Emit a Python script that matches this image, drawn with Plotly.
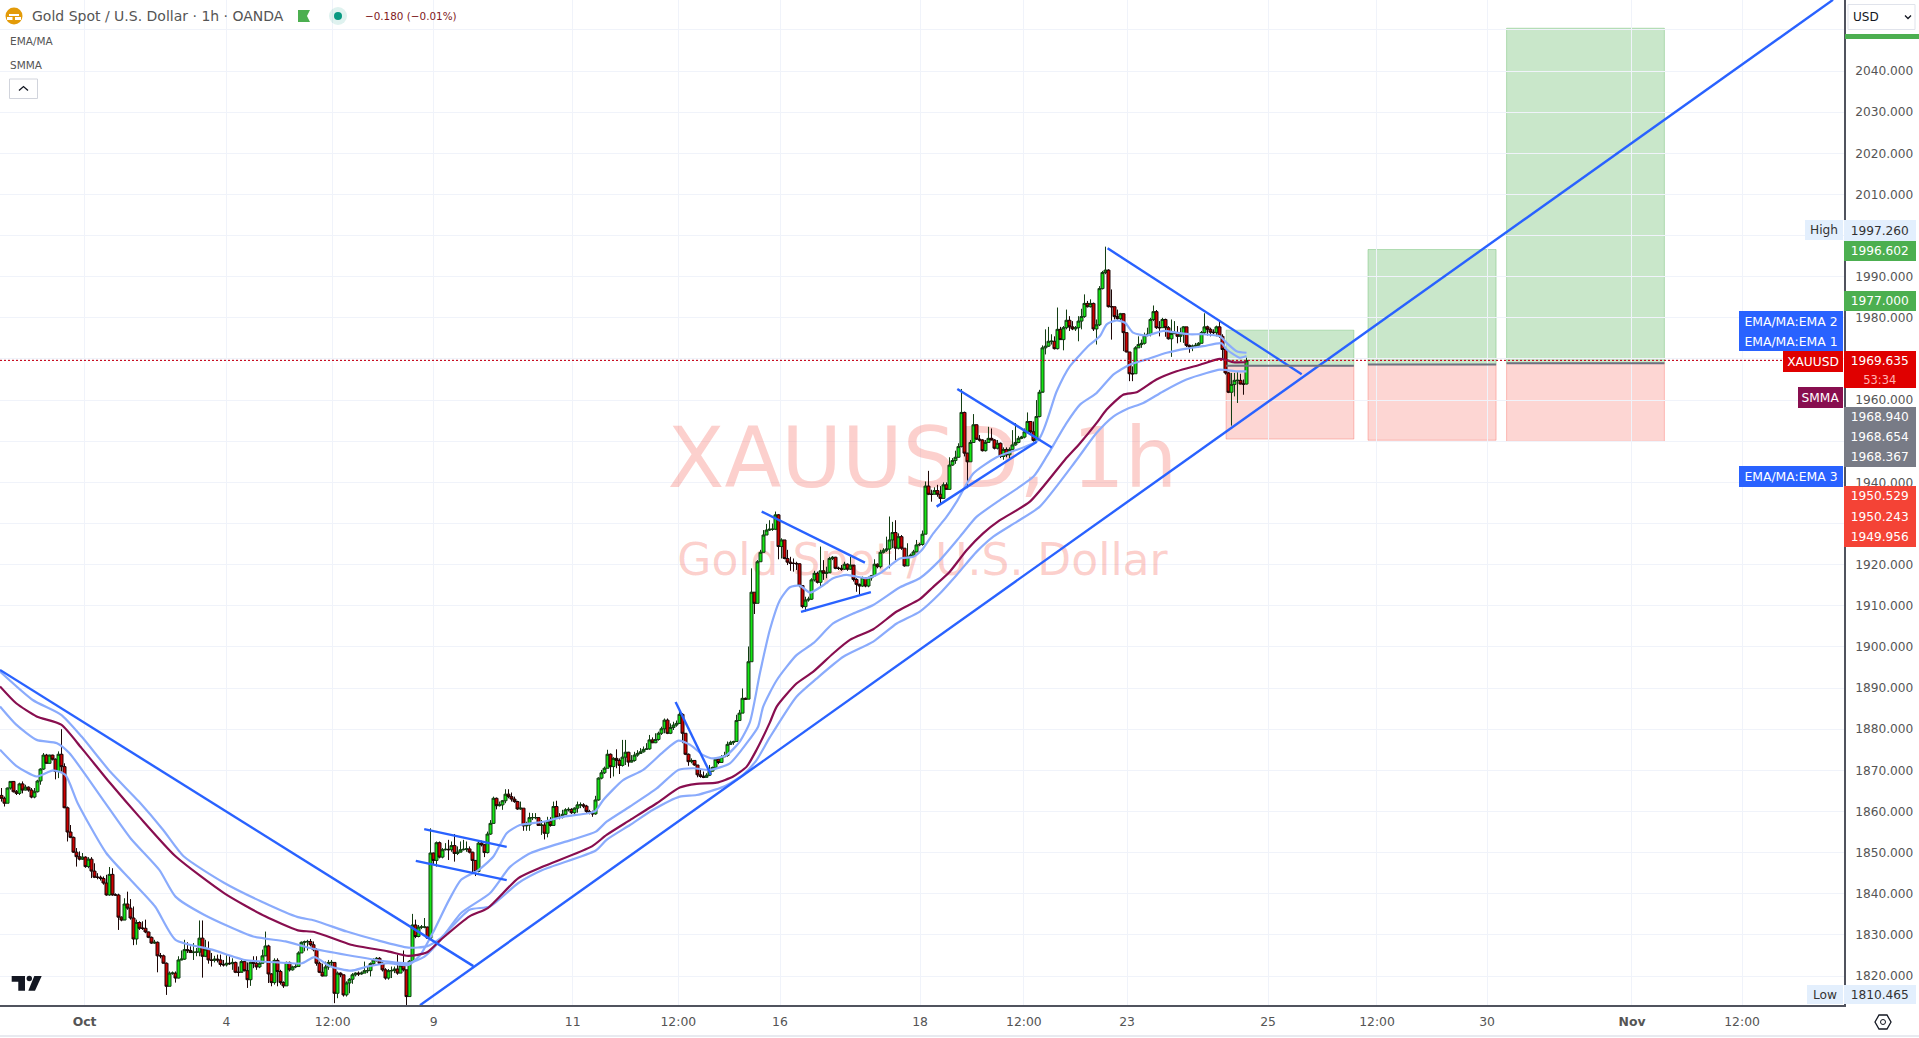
import plotly.graph_objects as go

W, H = 1919, 1038
PW, PH = 1844, 1005

closes = [
1863.2,1862.0,1865.7,1867.3,1864.8,1864.4,1866.7,1865.2,1865.9,1865.2,
1863.5,1864.8,1867.4,1870.3,1873.7,1871.7,1873.7,1872.7,1869.7,1873.9,
1870.9,1860.9,1855.0,1853.7,1850.1,1849.0,1848.4,1848.9,1846.6,1848.4,
1845.5,1844.0,1844.0,1843.7,1842.6,1839.7,1844.7,1839.7,1839.7,1834.3,
1833.6,1837.5,1836.5,1834.1,1829.0,1833.0,1831.6,1831.6,1830.7,1829.4,
1828.0,1828.2,1824.9,1824.9,1823.1,1817.5,1820.7,1820.7,1819.5,1823.9,
1824.1,1826.4,1826.2,1825.7,1825.8,1825.8,1829.2,1824.8,1826.5,1823.9,
1823.8,1824.1,1823.9,1822.8,1822.7,1823.1,1823.0,1823.3,1820.9,1820.9,
1823.5,1821.3,1819.1,1823.3,1823.1,1822.2,1823.1,1824.9,1827.3,1820.5,
1818.4,1823.8,1821.1,1818.4,1817.6,1823.3,1821.5,1822.2,1822.3,1825.6,
1828.2,1828.3,1828.4,1827.6,1826.4,1823.1,1820.9,1820.0,1822.2,1823.3,
1823.3,1815.8,1820.7,1820.3,1815.4,1818.3,1819.2,1820.3,1820.7,1820.5,
1820.7,1821.3,1821.3,1823.0,1823.9,1824.3,1823.1,1821.5,1819.5,1821.3,
1821.3,1821.7,1820.7,1822.5,1821.5,1815.0,1823.6,1832.4,1829.6,1831.9,
1831.9,1831.9,1829.2,1849.9,1848.1,1852.4,1848.9,1850.7,1850.8,1850.7,
1851.7,1849.8,1850.1,1850.7,1850.8,1850.9,1850.1,1848.1,1845.4,1852.3,
1851.9,1850.0,1854.5,1857.1,1863.2,1861.4,1861.6,1862.6,1864.2,1863.6,
1863.0,1862.4,1860.6,1860.8,1856.5,1856.7,1858.5,1858.5,1858.5,1856.6,
1856.7,1854.7,1857.5,1856.6,1861.2,1858.6,1858.6,1859.3,1860.4,1860.5,
1859.7,1860.8,1861.6,1861.6,1861.3,1860.0,1859.7,1859.4,1862.8,1868.1,
1869.4,1870.5,1873.9,1870.9,1872.9,1872.4,1871.2,1873.2,1874.4,1872.0,
1872.4,1873.7,1874.1,1874.5,1875.1,1875.2,1877.4,1876.7,1877.5,1879.0,
1880.1,1882.2,1879.0,1880.4,1881.0,1881.4,1883.6,1879.0,1873.9,1872.1,
1872.4,1871.3,1868.9,1868.5,1868.3,1868.8,1869.8,1870.7,1872.7,1871.9,
1873.3,1873.6,1876.3,1876.8,1877.0,1882.1,1883.9,1887.5,1887.3,1896.4,
1913.3,1910.6,1920.7,1923.0,1927.2,1928.4,1928.6,1928.6,1932.1,1924.4,
1926.0,1921.5,1920.6,1920.3,1920.3,1920.2,1914.9,1909.8,1911.4,1911.6,
1916.3,1917.9,1915.7,1918.5,1917.9,1918.0,1921.5,1921.8,1919.1,1919.1,
1918.9,1920.1,1918.9,1919.9,1916.4,1915.2,1914.8,1916.8,1914.8,1916.8,
1917.3,1920.1,1919.5,1923.0,1923.5,1923.8,1926.0,1927.8,1924.0,1926.8,
1924.0,1919.7,1921.9,1922.3,1923.1,1924.8,1924.9,1927.4,1939.1,1937.1,
1937.1,1938.0,1937.1,1936.1,1939.4,1938.3,1944.2,1945.3,1946.1,1948.7,
1957.0,1947.1,1945.0,1949.7,1954.0,1950.5,1950.3,1947.7,1949.7,1950.7,
1950.3,1948.3,1949.5,1946.3,1948.0,1946.7,1948.0,1949.1,1949.7,1950.7,
1951.0,1952.3,1954.8,1952.3,1950.2,1956.0,1961.9,1972.7,1973.1,1974.3,
1974.3,1972.5,1977.2,1974.7,1977.6,1979.4,1977.8,1977.3,1977.6,1979.2,
1980.3,1983.5,1982.7,1983.5,1977.3,1978.3,1987.1,1991.0,1991.6,1982.7,
1982.7,1980.3,1979.8,1981.0,1976.4,1971.7,1966.4,1966.4,1972.7,1973.5,
1973.8,1975.7,1976.0,1979.6,1981.5,1977.6,1977.6,1979.6,1977.6,1974.9,
1976.2,1976.4,1975.5,1976.0,1977.8,1973.3,1972.9,1973.1,1973.3,1973.8,
1976.4,1977.8,1977.2,1976.5,1976.4,1977.8,1975.5,1972.3,1966.6,1961.9,
1963.8,1964.8,1964.8,1963.9,1963.9,1969.6]

highs = [
1865.7,1863.6,1865.8,1867.4,1867.4,1865.2,1867.0,1867.3,1866.5,1866.1,
1865.7,1865.7,1867.7,1870.5,1874.2,1874.0,1873.8,1873.8,1872.9,1874.6,
1880.0,1871.7,1861.2,1856.7,1853.9,1851.1,1850.3,1849.9,1849.1,1848.9,
1848.9,1847.4,1845.0,1844.4,1844.2,1844.6,1846.5,1846.2,1840.1,1840.0,
1834.5,1838.9,1840.5,1838.7,1836.9,1833.7,1833.3,1833.3,1833.7,1830.8,
1829.6,1828.8,1828.4,1825.6,1825.2,1823.3,1821.1,1821.1,1821.1,1824.8,
1826.2,1828.8,1828.2,1827.2,1828.0,1826.8,1833.5,1833.5,1828.8,1828.4,
1825.6,1824.9,1825.2,1825.2,1823.9,1825.2,1824.8,1824.3,1823.5,1822.3,
1823.9,1823.9,1823.3,1823.5,1824.8,1824.8,1823.5,1826.4,1830.8,1827.6,
1820.7,1824.3,1824.3,1821.5,1818.7,1823.5,1823.5,1822.5,1823.0,1826.0,
1828.4,1828.6,1828.8,1829.0,1828.4,1826.8,1823.5,1823.0,1823.5,1823.9,
1823.9,1823.3,1821.1,1820.9,1820.3,1818.7,1819.5,1820.7,1820.9,1821.1,
1821.1,1823.5,1822.3,1823.3,1824.3,1824.6,1824.6,1823.3,1821.9,1821.7,
1822.3,1822.3,1825.2,1823.0,1826.2,1821.5,1823.9,1835.1,1833.7,1832.4,
1832.4,1834.1,1832.0,1855.9,1850.0,1852.7,1852.7,1851.1,1852.3,1853.1,
1852.7,1854.5,1851.5,1852.7,1853.1,1852.7,1851.5,1850.2,1848.2,1852.7,
1852.9,1852.1,1855.1,1857.9,1863.6,1863.4,1862.4,1862.8,1865.4,1865.4,
1864.6,1863.6,1862.6,1862.4,1860.8,1857.5,1859.7,1859.6,1859.6,1858.6,
1857.9,1857.5,1858.7,1858.6,1862.4,1862.6,1859.6,1860.4,1860.8,1861.0,
1860.8,1861.0,1862.4,1862.2,1862.0,1861.6,1860.4,1860.2,1863.8,1868.3,
1870.1,1870.9,1875.0,1874.1,1873.2,1875.1,1872.9,1877.4,1877.4,1874.5,
1873.7,1874.5,1874.9,1875.4,1875.8,1876.6,1878.6,1878.0,1879.0,1879.4,
1880.6,1882.6,1882.6,1881.4,1881.8,1882.1,1884.7,1883.9,1879.0,1874.1,
1872.9,1872.5,1871.3,1870.1,1869.7,1869.3,1871.3,1870.9,1872.9,1872.9,
1873.7,1874.5,1877.0,1877.2,1877.2,1883.5,1884.7,1889.9,1887.7,1900.1,
1919.1,1913.3,1921.1,1923.6,1928.4,1929.9,1930.8,1930.0,1932.9,1932.3,
1926.4,1926.0,1923.6,1921.9,1921.5,1920.7,1920.3,1915.0,1912.2,1912.2,
1916.7,1918.5,1918.3,1924.4,1921.1,1919.5,1921.9,1922.1,1921.9,1919.5,
1919.9,1920.7,1920.3,1921.9,1919.5,1916.7,1915.4,1917.1,1916.9,1917.1,
1917.5,1921.3,1920.3,1923.6,1924.0,1926.8,1931.7,1930.4,1930.8,1927.6,
1927.2,1924.0,1925.2,1922.7,1923.6,1926.0,1925.3,1928.3,1940.2,1942.8,
1938.2,1938.8,1939.4,1939.1,1940.0,1940.0,1946.1,1945.9,1947.7,1949.5,
1962.7,1957.2,1947.2,1950.3,1956.6,1954.1,1951.5,1950.5,1950.3,1953.5,
1953.1,1950.5,1950.3,1949.7,1948.5,1948.5,1948.5,1952.7,1954.4,1951.3,
1951.3,1953.1,1957.0,1954.8,1954.8,1960.0,1962.5,1973.3,1977.2,1977.8,
1976.0,1975.5,1982.5,1977.8,1978.0,1982.0,1980.4,1979.2,1978.0,1980.4,
1982.2,1985.7,1984.1,1984.5,1983.7,1979.6,1987.7,1991.4,1997.3,1991.8,
1986.9,1982.7,1982.0,1981.2,1981.1,1976.4,1971.7,1968.2,1973.1,1975.5,
1974.7,1976.4,1977.6,1980.0,1983.0,1981.9,1979.2,1980.0,1979.8,1978.0,
1979.6,1979.2,1978.0,1977.6,1978.0,1977.8,1973.5,1973.5,1973.9,1974.1,
1976.8,1981.1,1978.1,1977.6,1977.2,1978.1,1979.4,1976.0,1972.3,1966.8,
1966.6,1966.6,1966.8,1966.4,1965.0,1970.3]

lows = [
1862.4,1861.2,1862.0,1865.3,1864.6,1864.0,1864.0,1864.4,1865.1,1864.8,
1863.2,1863.2,1864.6,1866.5,1870.1,1871.6,1871.6,1872.4,1867.8,1868.1,
1869.7,1860.8,1852.7,1853.5,1849.9,1846.6,1848.1,1848.2,1846.3,1846.2,
1843.8,1843.8,1843.5,1843.2,1842.2,1839.5,1839.5,1839.5,1839.5,1831.2,
1833.3,1833.7,1836.1,1833.7,1827.5,1827.6,1831.2,1831.2,1830.4,1829.2,
1827.8,1827.8,1820.9,1824.3,1823.0,1815.4,1817.5,1820.3,1818.4,1819.4,
1823.8,1823.9,1825.6,1825.6,1823.9,1824.8,1824.8,1819.6,1824.6,1823.0,
1822.3,1823.3,1823.3,1822.3,1822.3,1822.3,1822.7,1821.5,1820.7,1819.9,
1821.1,1821.1,1817.1,1817.6,1821.9,1821.5,1821.9,1823.0,1824.8,1818.3,
1817.5,1817.9,1817.5,1817.9,1817.1,1817.6,1821.1,1821.3,1821.9,1822.3,
1825.6,1826.0,1826.2,1827.2,1826.0,1822.5,1820.7,1819.9,1820.0,1821.5,
1822.3,1813.4,1814.6,1819.7,1815.0,1815.0,1815.8,1818.1,1819.9,1820.0,
1820.3,1820.7,1820.7,1819.9,1822.7,1823.5,1822.7,1821.1,1819.1,1819.1,
1819.5,1820.7,1820.3,1820.7,1821.1,1810.5,1815.0,1823.5,1829.2,1829.4,
1831.4,1831.6,1829.0,1829.2,1847.0,1846.6,1848.6,1848.6,1850.5,1848.2,
1850.2,1847.8,1849.4,1850.2,1850.5,1850.2,1849.8,1845.0,1844.3,1845.2,
1851.5,1848.9,1849.8,1854.3,1857.0,1860.5,1861.2,1860.4,1862.0,1863.2,
1862.4,1862.1,1860.4,1860.4,1855.3,1855.3,1855.3,1857.9,1858.1,1856.5,
1854.3,1853.2,1853.7,1856.3,1856.5,1858.3,1858.1,1858.3,1859.2,1860.0,
1859.4,1859.4,1859.7,1860.8,1860.8,1859.6,1859.3,1858.7,1859.2,1862.6,
1867.8,1869.1,1870.5,1868.1,1868.5,1870.5,1869.1,1870.9,1871.3,1870.9,
1871.9,1872.1,1873.3,1874.1,1874.3,1875.0,1875.0,1876.6,1876.6,1877.2,
1878.6,1879.0,1878.8,1878.8,1879.8,1880.6,1881.3,1876.6,1873.7,1871.1,
1871.7,1871.1,1868.3,1868.2,1868.1,1868.2,1868.6,1869.7,1870.5,1871.5,
1871.9,1873.2,1873.3,1876.2,1876.2,1877.0,1882.1,1883.9,1887.1,1887.3,
1896.4,1908.0,1910.6,1920.7,1923.0,1927.2,1928.2,1928.2,1928.4,1921.3,
1921.5,1921.3,1919.9,1918.5,1918.3,1918.7,1914.5,1909.4,1908.6,1911.0,
1911.4,1915.9,1915.4,1914.6,1916.3,1916.7,1918.3,1921.1,1918.9,1918.7,
1918.5,1918.7,1918.5,1918.7,1915.9,1913.4,1912.4,1914.6,1914.5,1914.5,
1916.1,1917.2,1919.1,1919.1,1922.7,1923.1,1919.1,1924.0,1921.1,1923.7,
1923.6,1919.5,1919.7,1921.8,1922.1,1923.0,1924.5,1924.6,1927.4,1936.9,
1935.3,1937.1,1936.5,1934.9,1936.1,1938.2,1938.2,1944.0,1944.5,1946.0,
1948.5,1946.3,1938.6,1945.0,1949.7,1950.3,1949.9,1947.5,1947.5,1949.7,
1950.2,1948.0,1948.0,1945.9,1945.5,1946.1,1945.9,1947.9,1948.9,1949.5,
1950.5,1950.7,1952.1,1951.9,1949.9,1949.9,1955.8,1962.1,1971.1,1972.9,
1973.5,1972.3,1972.3,1974.6,1972.1,1977.2,1976.8,1977.0,1976.8,1974.3,
1977.2,1980.0,1982.5,1982.5,1976.8,1973.5,1978.0,1986.9,1990.6,1982.5,
1974.7,1979.6,1979.4,1979.2,1971.9,1971.6,1964.6,1964.6,1966.4,1972.7,
1972.7,1973.5,1975.5,1975.5,1979.2,1977.3,1975.5,1977.6,1975.4,1974.7,
1970.5,1976.0,1973.8,1974.1,1973.9,1972.9,1971.5,1971.9,1972.7,1972.7,
1973.8,1976.0,1975.7,1975.5,1976.0,1975.5,1975.1,1969.9,1966.2,1961.7,
1953.8,1960.9,1959.3,1963.8,1961.3,1963.8]

first_open = 1863.9
bars = list(range(len(closes)))
opens = [first_open] + closes[:-1]
assert len(closes) == len(highs) == len(lows) == 416

ema1_bar = [-0.5,4.9,11.7,17.2,21.3,25.4,34.9,43,51.2,58,70.2,81.1,92,100.2,104.3,109.7,116.5,122,128.8,135.6,139.6,143.7,149.2,153.2,158.7,163.9,168.4,172.8,180.6,187.2,195,197.8,200.6,207.2,213.9,220.6,225.6,229.5,233.9,237.2,241.7,246.1,249.5,252.8,256.1,259.5,262.8,266.1,269.5,273.9,277.2,281.7,288.4,292.8,299.5,303.9,306.7,310.6,315,318.4,324,331.7,345.6,351.7,356.1,362.8,366.1,368.4,371.7,374.5,377.2,381.7,387.2,391.7,396.1,400.6,406.1,408.4,411.7,415]
ema1_val = [1875,1871.1,1868.5,1870,1868.9,1862,1849.9,1843.4,1836.9,1828.8,1826.4,1823.9,1823.3,1823.1,1824.6,1822.3,1821.3,1822.3,1823.1,1822.7,1825.1,1830.4,1838.5,1843.4,1845.6,1849,1854.7,1856.7,1857.5,1858.7,1859.5,1860,1862.8,1867.6,1870.1,1874.5,1877.2,1876.2,1873.7,1872.9,1873.7,1877,1881.8,1893.6,1904.1,1911.4,1914.5,1914.9,1913.2,1915,1916.7,1917.5,1916.7,1917.9,1921.5,1921.9,1923.5,1927.6,1931.6,1935.3,1942.2,1946.1,1950.3,1962.1,1968.2,1973.5,1975.5,1978.4,1979.4,1978.8,1976.4,1975.7,1976.8,1976.4,1976,1976,1975.5,1973.9,1971.9,1971.5]

ema2_bar = [-0.5,4.9,11.7,18.5,22.6,33.5,43,52.6,58,67.5,83.9,94.7,102.9,115.1,128.8,135.6,141,146.4,153.2,162.8,169.6,176.4,190,198.1,201.7,209.5,218.4,225.6,230.6,236.1,242.8,248.4,252.2,253.9,258.4,265,270.6,277.2,283.9,290.6,299.5,306.1,312.8,319.5,325,332.8,344,348.4,355,359.5,365,370.6,376.1,381.7,388.4,395,400.6,406.7,408.4,412.8,415]
ema2_val = [1885.5,1881.1,1877.4,1876.6,1874.2,1863.2,1853.5,1845.8,1839.3,1834.9,1829.6,1828.4,1826.8,1825.1,1823.5,1823.1,1824.7,1828.8,1835.3,1840.1,1846.6,1849.9,1853.1,1855.1,1857.5,1861.2,1865.6,1870.1,1870.5,1870.1,1871.7,1876.6,1880.6,1885.5,1891.9,1898,1900.9,1905.7,1908.1,1910.2,1914.5,1916.7,1921.1,1926.8,1931.6,1935.7,1941.4,1946.3,1954.4,1958.9,1961.7,1966.2,1968.6,1969.9,1971.5,1972.5,1973.1,1973.8,1972.3,1970.3,1970.7]

smma_bar = [-0.5,4.9,11.7,19.9,26.7,36.2,45.8,58,74.3,87.9,98.8,104.3,116.5,128.8,135.6,141.7,146.4,156,162.1,172.3,180.5,196.8,201.7,209.5,218.4,226.1,231.7,238.4,243.9,248.4,251.7,256.1,258.4,265,270.6,277.2,282.8,290.6,298.4,306.1,310.6,316.1,321.7,327.2,332.8,342.8,354.5,359.5,365,368.4,373.9,378.4,385,391.7,399.5,406.1,408.4,410.6,415]
smma_val = [1890.4,1886.3,1883.1,1881.1,1875.4,1866.9,1858.8,1849.1,1840.1,1834.5,1831.1,1830.7,1827.6,1826,1824.9,1825.7,1828.8,1834.5,1836.5,1843.8,1846.6,1851.5,1854.3,1857.9,1862,1865.8,1866.7,1867,1868.5,1870.9,1875,1881.6,1885.5,1891.1,1894,1898.4,1901.7,1904.3,1908.6,1911.6,1914.6,1918.3,1923.5,1927.6,1930.8,1935.3,1945.5,1949.5,1954.4,1957.7,1961.3,1961.9,1965,1967,1968.6,1970,1969.7,1969.2,1969.2]

ema3_bar = [-0.5,10.4,19.9,26.7,36.2,45.8,53.9,60.7,74.3,86.6,98.8,104.3,115.1,124.7,135.6,141.7,146.4,156,162.8,172.3,180.5,198.1,201.7,209.5,217.2,226.1,231.7,240.6,247.2,251.7,256.1,265,271.7,280.6,290.6,298.4,306.1,312.8,318.4,325,330.6,338.4,346.1,358.4,365,370.6,375,380.6,387.2,395,401.7,406.1,408.4,411.7,415]
ema3_val = [1894,1887.1,1883.5,1878.2,1869.7,1862.4,1855.5,1849.1,1842.6,1838.1,1834.3,1833.5,1830.8,1828.8,1826.9,1827.2,1829.2,1836.1,1836.9,1842.6,1845.8,1850.5,1853.1,1856.7,1860.4,1863.6,1864,1866,1868.9,1872.5,1878,1887.9,1892.3,1897.6,1901.3,1905.7,1908.6,1913,1917.5,1923.1,1926.8,1930.4,1934.1,1945.5,1952,1956,1957.8,1959.3,1962.1,1965,1966.6,1967.4,1967.3,1967,1967]

trend_lines = [
    ((-0.5, 1894.4), (157.3, 1822.4)),
    ((139.5, 1812.9), (610.5, 2057.3)),
    ((140.9, 1855.7), (168.4, 1851.4)),
    ((138.1, 1848.0), (168.4, 1843.3)),
    ((224.7, 1886.6), (236.5, 1868.9)),
    ((253.4, 1932.9), (287.8, 1920.5)),
    ((266.5, 1908.5), (289.8, 1913.3)),
    ((318.6, 1962.7), (350.1, 1948.5)),
    ((311.7, 1934.1), (345.1, 1949.9)),
    ((368.7, 1996.9), (433.4, 1966.3)),
]

box_left = [408.2, 455.5, 501.7]
box_right = [450.8, 498.2, 554.3]
box_target = [1977.0, 1996.602, 2050.4]
box_entry = [1968.367, 1968.654, 1968.94]
box_stop = [1950.529, 1950.243, 1949.956]

x_tick_bars = [27.7, 75, 110.4, 144.1, 190.4, 225.6, 259.5, 306.2, 340.8, 375.2, 422.2, 458.5, 495.2, 543.5, 580.2]
x_tick_text = ["<b>Oct</b>", "4", "12:00", "9", "11", "12:00", "16", "18", "12:00", "23", "25", "12:00", "30", "<b>Nov</b>", "12:00"]
y_hidden_levels = [2050, 2000, 1970, 1950, 1930]
y_tick_vals = [v for v in range(1820, 2041, 10) if v not in y_hidden_levels]
y_tick_text = [f"{v}.000" for v in y_tick_vals]
last_price = 1969.635

FONT = "DejaVu Sans"
BLUE = "#2962ff"
LINE_BLUE = "#8aabfc"
MAROON = "#880e4f"
TEXT = "#555555"
GRID = "#f0f3fa"


def px(x):
    return x / PW


def py(y):
    return 1 - y / PH


def poly(points, close=True):
    s = "M " + " L ".join(f"{px(a):.5f} {py(b):.5f}" for a, b in points)
    return s + (" Z" if close else "")


fig = go.Figure()

# watermark lives on the primary axis so candles (overlay axis) draw above it
fig.add_trace(go.Scatter(
    x=[307, 307], y=[1944.0, 1920.2], mode="text",
    text=["XAUUSD, 1h", "Gold Spot / U.S. Dollar"],
    textfont=dict(family=FONT, size=[83, 44], color="rgba(244,67,54,0.25)"),
    textposition="middle center", hoverinfo="skip", showlegend=False,
))

fig.add_trace(go.Candlestick(
    x=bars, open=opens, high=highs, low=lows, close=closes, yaxis="y2",
    increasing=dict(fillcolor="#14e614", line=dict(color="#123d12", width=1)),
    decreasing=dict(fillcolor="#cc0000", line=dict(color="#1c0505", width=1)),
    whiskerwidth=0, showlegend=False, hoverinfo="skip",
))

for xs, ys, col in [
    (ema1_bar, ema1_val, LINE_BLUE),
    (ema2_bar, ema2_val, LINE_BLUE),
    (ema3_bar, ema3_val, LINE_BLUE),
    (smma_bar, smma_val, MAROON),
]:
    fig.add_trace(go.Scatter(
        x=xs, y=ys, mode="lines", yaxis="y2", showlegend=False, hoverinfo="skip",
        line=dict(color=col, width=2.2, shape="spline", smoothing=0.6),
    ))

for a, b in trend_lines:
    fig.add_trace(go.Scatter(
        x=[a[0], b[0]], y=[a[1], b[1]], mode="lines", yaxis="y2", showlegend=False,
        hoverinfo="skip", line=dict(color=BLUE, width=2.4),
    ))

shapes = []
for l, r, t, e, s in zip(box_left, box_right, box_target, box_entry, box_stop):
    shapes.append(dict(type="rect", xref="x", yref="y", x0=l, x1=r, y0=e, y1=t, layer="below",
                       fillcolor="rgba(76,175,80,0.30)", line=dict(color="rgba(76,175,80,0.35)", width=1)))
    shapes.append(dict(type="rect", xref="x", yref="y", x0=l, x1=r, y0=s, y1=e, layer="below",
                       fillcolor="rgba(244,67,54,0.22)", line=dict(color="rgba(244,67,54,0.3)", width=1)))
    shapes.append(dict(type="line", xref="x", yref="y", x0=l, x1=r, y0=e, y1=e, layer="above",
                       line=dict(color="#6f7280", width=2)))

# last price line
shapes.append(dict(type="line", xref="paper", yref="y", x0=0, x1=1, y0=last_price, y1=last_price,
                   layer="above", line=dict(color=BLUE, width=1, dash="2px,2px")))
shapes.append(dict(type="line", xref="paper", yref="y", x0=0, x1=1, y0=last_price + 0.02, y1=last_price + 0.02,
                   layer="above", line=dict(color="#e00000", width=1, dash="2px,2px")))


def rect(x0, y0, x1, y1, fill, line=None):
    shapes.append(dict(type="rect", xref="paper", yref="paper", x0=px(x0), x1=px(x1), y0=py(y1), y1=py(y0),
                       fillcolor=fill, layer="above",
                       line=dict(color=line or "rgba(0,0,0,0)", width=1 if line else 0)))


def circle(cx, cy, r, fill, line=None):
    shapes.append(dict(type="circle", xref="paper", yref="paper", x0=px(cx - r), x1=px(cx + r),
                       y0=py(cy + r), y1=py(cy - r), fillcolor=fill, layer="above",
                       line=dict(color=line or "rgba(0,0,0,0)", width=1 if line else 0)))


def path(points, fill=None, line=None, close=True):
    shapes.append(dict(type="path", xref="paper", yref="paper", path=poly(points, close),
                       fillcolor=fill or "rgba(0,0,0,0)", layer="above",
                       line=dict(color=line or "rgba(0,0,0,0)", width=1.3 if line else 0)))


anns = []


def label(text, x0, y0, x1, y1, bg=None, color="white", size=12.2, align="center"):
    anns.append(dict(
        text=text, xref="paper", yref="paper", x=px((x0 + x1) / 2), y=py((y0 + y1) / 2),
        xanchor="center", yanchor="middle", showarrow=False, width=x1 - x0, height=y1 - y0,
        bgcolor=bg or "rgba(0,0,0,0)", borderpad=0, borderwidth=0, align=align, valign="middle",
        font=dict(family=FONT, size=size, color=color),
    ))


def free(text, x, y, color=TEXT, size=12.2, anchor="left"):
    anns.append(dict(
        text=text, xref="paper", yref="paper", x=px(x), y=py(y), xanchor=anchor, yanchor="middle",
        showarrow=False, font=dict(family=FONT, size=size, color=color), borderpad=0,
    ))


# TradingView logo
path([(11.7, 976), (25, 976), (25, 990.7), (18.3, 990.7), (18.3, 981.7), (11.7, 981.7)], fill="#131722")
circle(29.3, 978.5, 2.7, "#131722")
path([(34.3, 976), (41.7, 976), (35, 990.7), (28.3, 990.7)], fill="#131722")

# header
circle(14, 16, 8.5, "#e39b09")
rect(9, 14, 19, 16, "white")
rect(7, 17, 12.5, 20, "white")
rect(15, 17, 21, 20, "white")
free("Gold Spot / U.S. Dollar · 1h · OANDA", 31, 16, size=14)
path([(298, 10), (310, 10), (307, 16), (310, 22), (298, 22)], fill="#4caf50")
circle(338, 16, 9, "rgba(8,153,129,0.13)")
circle(338, 16, 4, "#089981")
free("−0.180 (−0.01%)", 364, 16, color="#801922", size=10.4)
free("EMA/MA", 9, 41, size=10.5)
free("SMMA", 9, 65, size=10.5)
rect(9.5, 79, 37.5, 98.5, "white", "#d1d4dc")
path([(19, 90.5), (23.5, 86.5), (28, 90.5)], line="#131722", close=False)

# right axis labels
AX0, AX1 = 1844.5, 1916
LAB_R = 1843
rect(1845, 34, 1919, 39, "#4caf50")
rect(1848, 4.5, 1915, 29.5, "white", "#e0e3eb")
free("USD", 1852, 17, color="#131722", size=12)
path([(1905, 15.5), (1908, 18.5), (1911, 15.5)], line="#131722", close=False)

label("High", 1805, 220, LAB_R, 240, "#e3effd", "#333333")
label("1997.260", AX0, 220, AX1, 241, "#e3effd", "#333333")
label("1996.602", AX0, 241, AX1, 261, "#4caf50")
label("1977.000", AX0, 291, AX1, 311, "#4caf50")
label("EMA/MA:EMA 2", 1739, 311, LAB_R, 331, BLUE, size=12.4)
label("EMA/MA:EMA 1", 1739, 331, LAB_R, 351, BLUE, size=12.4)
label("XAUUSD", 1783, 351, LAB_R, 372, "#e00000")
label("1969.635", AX0, 351, AX1, 371, "#e00000")
label("53:34", AX0, 371, AX1, 388, "#e00000", "#ffb3b3", size=11.5)
label("SMMA", 1798, 387, LAB_R, 408, MAROON)
label("1968.940", AX0, 407, AX1, 427, "#787b86")
label("1968.654", AX0, 427, AX1, 447, "#787b86")
label("1968.367", AX0, 447, AX1, 467, "#787b86")
label("EMA/MA:EMA 3", 1739, 466, LAB_R, 487, BLUE, size=12.4)
label("1950.529", AX0, 486, AX1, 506, "#f44336")
label("1950.243", AX0, 506, AX1, 527, "#f44336")
label("1949.956", AX0, 527, AX1, 547, "#f44336")
label("Low", 1807, 985, LAB_R, 1004, "#e3effd", "#333333")
label("1810.465", AX0, 985, AX1, 1004, "#e3effd", "#333333")

# settings icon
hx, hy = 1883, 1022
path([(hx - 8, hy), (hx - 4, hy - 7), (hx + 4, hy - 7), (hx + 8, hy), (hx + 4, hy + 7), (hx - 4, hy + 7)], line="#131722")
circle(hx, hy, 2.5, "white", "#131722")

# bottom edge of the time axis
path([(0, 1036), (W, 1036)], line="#e0e3eb", close=False)

rng_y = [1812.95, 2057.26]
fig.update_layout(
    width=W, height=H, margin=dict(l=0, r=W - PW, t=0, b=H - PH),
    paper_bgcolor="white", plot_bgcolor="white", showlegend=False, boxgap=0.0, boxgroupgap=0,
    font=dict(family=FONT, size=12.2, color=TEXT), shapes=shapes, annotations=anns,
    xaxis=dict(
        range=[-0.5, 614.17], tickmode="array", tickvals=x_tick_bars, ticktext=x_tick_text,
        showgrid=True, gridcolor=GRID, gridwidth=1, zeroline=False, showline=True,
        linecolor="#50535e", linewidth=1.5, ticks="outside", ticklen=4, tickcolor="rgba(0,0,0,0)",
        rangeslider=dict(visible=False), tickfont=dict(family=FONT, size=12.4, color=TEXT),
    ),
    yaxis=dict(
        range=rng_y, side="right", tickmode="array", tickvals=y_tick_vals, ticktext=y_tick_text,
        showgrid=True, gridcolor=GRID, gridwidth=1, zeroline=False, showline=True,
        linecolor="#50535e", linewidth=1.5, ticks="outside", ticklen=7, tickcolor="rgba(0,0,0,0)",
        tickfont=dict(family=FONT, size=12.2, color=TEXT),
        minor=dict(tickmode="array", tickvals=y_hidden_levels, showgrid=True, gridcolor=GRID, gridwidth=1, ticks=""),
    ),
    yaxis2=dict(range=rng_y, overlaying="y", side="right", showgrid=False, showticklabels=False,
                zeroline=False, showline=False, ticks=""),
)

fig.write_html(
    "out.html",
    config=dict(displayModeBar=False, responsive=False),
    post_script="document.body.style.margin='0';document.body.style.overflow='hidden';",
)
